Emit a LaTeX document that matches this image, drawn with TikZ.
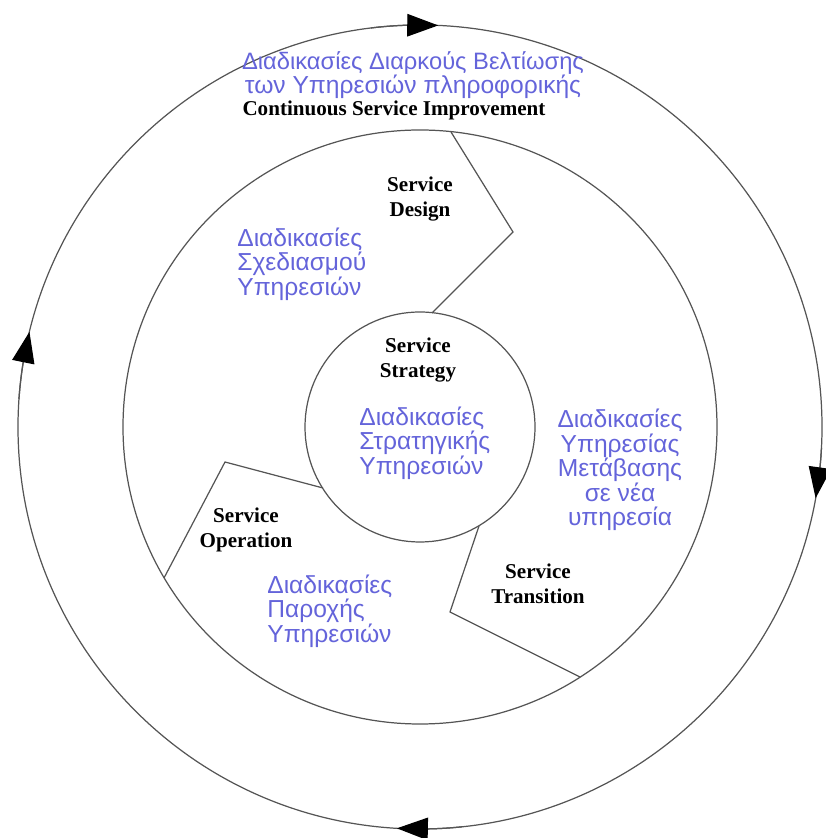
\documentclass[tikz,border=0pt]{standalone}
\usepackage{fontspec}
\setmainfont{Liberation Serif}
\newfontfamily\greekfont{Liberation Sans}
\usepackage{tikz}
\usetikzlibrary{calc,arrows.meta,bending}
\definecolor{phase}{RGB}{100,100,218}
\definecolor{linegray}{RGB}{85,85,85}

\begin{document}
\begin{tikzpicture}[x=0.02cm,y=0.02cm,
    ring/.style={draw=linegray,line width=0.7pt},
    cycle/.style={ring,-{Triangle[length=0.62cm,width=0.45cm,color=black]}},
    title/.style={font=\bfseries\fontsize{12}{14}\selectfont,align=center,inner sep=0pt},
    phasetxt/.style={text=phase,font=\greekfont\fontsize{14}{14}\selectfont,inner sep=0pt}]
  \useasboundingbox (0,0) rectangle (825,838);
  \coordinate (c) at (420,411);
  \draw[ring] (c) circle[radius=402];
  \draw[ring] (c) circle[radius=297];
  \draw[ring] (c) circle[radius=115];
  \draw[cycle] ([shift={(97:402)}]c) arc[start angle=97,end angle=87.4,radius=402];
  \draw[cycle] ([shift={(-3:402)}]c) arc[start angle=-3,end angle=-10.2,radius=402];
  \draw[cycle] ([shift={(276:402)}]c) arc[start angle=276,end angle=266.7,radius=402];
  \draw[cycle] ([shift={(176:402)}]c) arc[start angle=176,end angle=166.3,radius=402];
  \draw[ring] (451,706) -- (513,606) -- (432,525);
  \draw[ring] (323,350) -- (225,376) -- (164,260);
  \draw[ring] (479,312) -- (450,226) -- (580,161);
  \node[phasetxt,align=center] (csigr) at (413,763)
    {\fontsize{13.5}{14.7}\selectfont Διαδικασίες Διαρκούς Βελτίωσης\\των Υπηρεσιών πληροφορικής};
  \node[title] (csi) at (394,728) {Continuous Service Improvement};
  \node[title] (design) at (420,639) {Service\\Design};
  \node[phasetxt,align=left,anchor=west] (designgr) at (237,574) {Διαδικασίες\\Σχεδιασμού\\Υπηρεσιών};
  \node[title] (strategy) at (418,478) {Service\\Strategy};
  \node[phasetxt,align=left,anchor=west] (strategygr) at (359,395) {Διαδικασίες\\Στρατηγικής\\Υπηρεσιών};
  \node[phasetxt,align=center] (transitiongr) at (620,368) {Διαδικασίες\\Υπηρεσίας\\Μετάβασης\\σε νέα\\υπηρεσία};
  \node[title] (operation) at (246,308) {Service\\Operation};
  \node[phasetxt,align=left,anchor=west] (operationgr) at (267,227) {Διαδικασίες\\Παροχής\\Υπηρεσιών};
  \node[title] (transition) at (538,254) {Service\\Transition};
\end{tikzpicture}
\end{document}
